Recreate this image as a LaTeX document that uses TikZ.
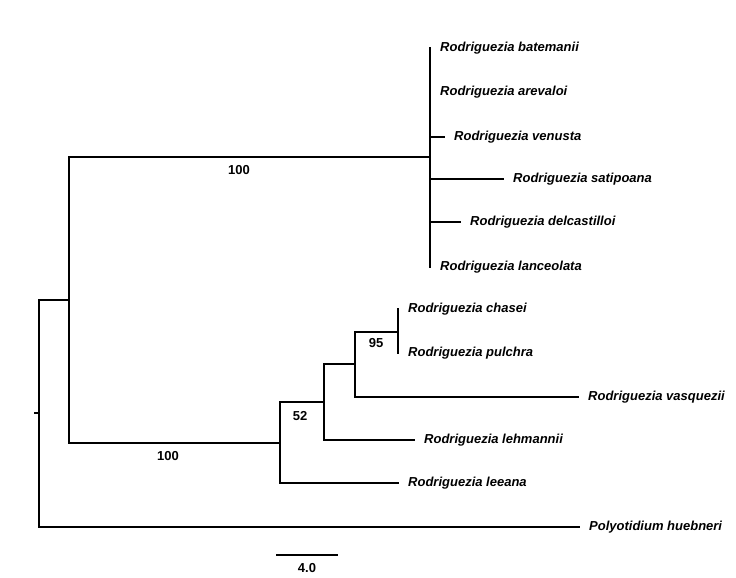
\documentclass[tikz,border=0pt]{standalone}
\usepackage{fontspec}
\setmainfont{Liberation Sans}
\begin{document}
\begin{tikzpicture}[x=1pt,y=-1pt,
  branch/.style={line width=1.8pt, line cap=rect},
  taxon/.style={anchor=west, inner sep=0pt, xshift=10pt, font=\fontsize{13}{15}\selectfont\bfseries\itshape},
  support/.style={inner sep=0pt, font=\fontsize{13}{15}\selectfont\bfseries}]
\useasboundingbox (0,0) rectangle (736,578);
% internal nodes
\coordinate (stub) at (35,413);
\coordinate (root) at (39,413);
\coordinate (ing) at (69,300);
\coordinate (A) at (430,157);
\coordinate (B) at (280,443);
\coordinate (C) at (324,402);
\coordinate (D) at (355,364);
\coordinate (E) at (398,332);
% tips
\coordinate (t1) at (430,48);
\coordinate (t2) at (430,92);
\coordinate (t3) at (444,137);
\coordinate (t4) at (503,179);
\coordinate (t5) at (460,222);
\coordinate (t6) at (430,267);
\coordinate (t7) at (398,309);
\coordinate (t8) at (398,353);
\coordinate (t9) at (578,397);
\coordinate (t10) at (414,440);
\coordinate (t11) at (398,483);
\coordinate (t12) at (579,527);
% labels
\node[taxon] (l1) at (t1) {Rodriguezia batemanii};
\node[taxon] (l2) at (t2) {Rodriguezia arevaloi};
\node[taxon] (l3) at (t3) {Rodriguezia venusta};
\node[taxon] (l4) at (t4) {Rodriguezia satipoana};
\node[taxon] (l5) at (t5) {Rodriguezia delcastilloi};
\node[taxon] (l6) at (t6) {Rodriguezia lanceolata};
\node[taxon] (l7) at (t7) {Rodriguezia chasei};
\node[taxon] (l8) at (t8) {Rodriguezia pulchra};
\node[taxon] (l9) at (t9) {Rodriguezia vasquezii};
\node[taxon] (l10) at (t10) {Rodriguezia lehmannii};
\node[taxon] (l11) at (t11) {Rodriguezia leeana};
\node[taxon] (l12) at (t12) {Polyotidium huebneri};
% branches
\draw[branch] (stub) -- (root);
\draw[branch] (root) |- (ing);
\draw[branch] (root) |- (t12);
\draw[branch] (ing) |- (A);
\draw[branch] (ing) |- (B);
\foreach \t in {t1,t2,t3,t4,t5,t6} \draw[branch] (A) |- (\t);
\draw[branch] (B) |- (t11);
\draw[branch] (B) |- (C);
\draw[branch] (C) |- (t10);
\draw[branch] (C) |- (D);
\draw[branch] (D) |- (t9);
\draw[branch] (D) |- (E);
\draw[branch] (E) |- (t7);
\draw[branch] (E) |- (t8);
% support values
\node[support] (s1) at (239,170) {100};
\node[support] (s2) at (168,456) {100};
\node[support] (s3) at (300,416) {52};
\node[support] (s4) at (376,343) {95};
% scale bar
\coordinate (sb1) at (277,555);
\coordinate (sb2) at (337,555);
\draw[branch] (sb1) -- (sb2);
\node[support] (sbl) at (307,568) {4.0};
\end{tikzpicture}
\end{document}
